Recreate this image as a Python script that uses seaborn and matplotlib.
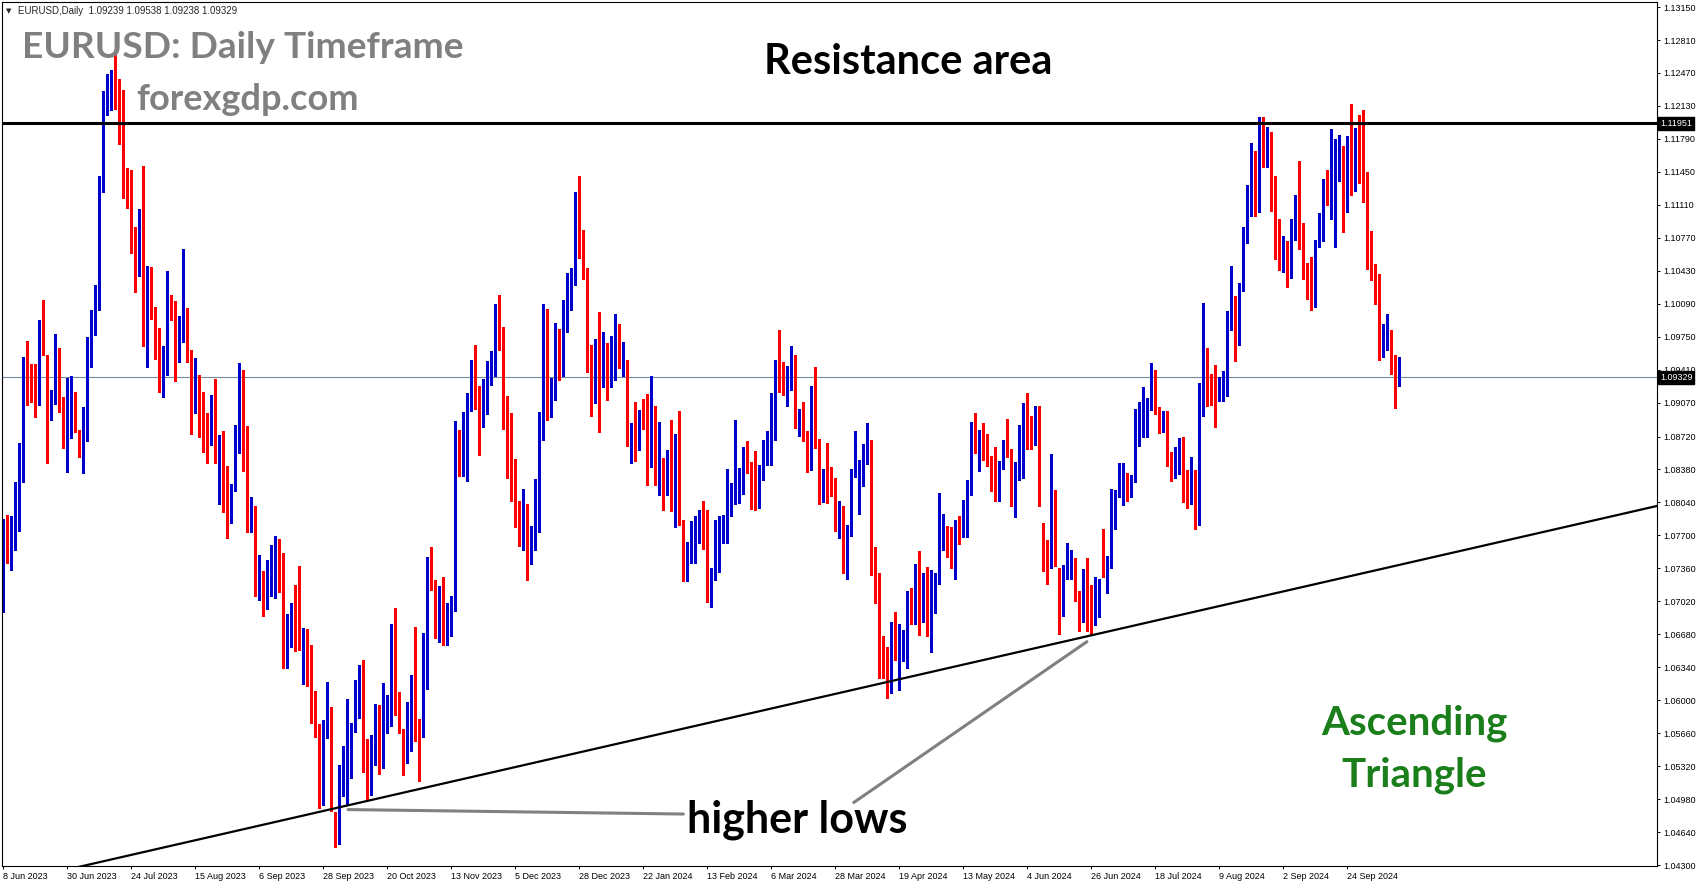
import matplotlib
matplotlib.use("Agg")
import matplotlib.pyplot as plt
import seaborn as sns
import numpy as np

# EURUSD daily candles, 8 Jun 2023 .. 11 Oct 2024
opens = [
    1.0697, 1.0784, 1.0749, 1.0757, 1.0795, 1.0826, 1.0945, 1.0940, 1.0922, 1.0913,
    1.0987, 1.0956, 1.0903, 1.0906, 1.0959, 1.0913, 1.0866, 1.0910, 1.0908, 1.0879,
    1.0855, 1.0883, 1.0957, 1.0997, 1.1007, 1.1124, 1.1224, 1.1228, 1.1233, 1.1226,
    1.1198, 1.1129, 1.1124, 1.1064, 1.1049, 1.1086, 1.0977, 1.1019, 1.0997, 1.0984,
    1.0939, 1.0949, 1.1011, 1.1004, 1.0955, 1.0975, 1.0978, 1.0949, 1.0906, 1.0904,
    1.0879, 1.0872, 1.0865, 1.0892, 1.0846, 1.0864, 1.0810, 1.0795, 1.0819, 1.0876,
    1.0924, 1.0844, 1.0776, 1.0792, 1.0722, 1.0723, 1.0698, 1.0714, 1.0750, 1.0755,
    1.0730, 1.0662, 1.0657, 1.0692, 1.0679, 1.0656, 1.0662, 1.0645, 1.0594, 1.0574,
    1.0503, 1.0566, 1.0568, 1.0478, 1.0467, 1.0505, 1.0542, 1.0551, 1.0567, 1.0597,
    1.0619, 1.0527, 1.0510, 1.0561, 1.0577, 1.0533, 1.0584, 1.0596, 1.0667, 1.0590,
    1.0567, 1.0562, 1.0566, 1.0616, 1.0573, 1.0571, 1.0621, 1.0725, 1.0719, 1.0701,
    1.0708, 1.0667, 1.0684, 1.0698, 1.0878, 1.0848, 1.0852, 1.0909, 1.0940, 1.0910,
    1.0888, 1.0899, 1.0944, 1.0953, 1.0993, 1.0970, 1.0889, 1.0878, 1.0837, 1.0796,
    1.0762, 1.0794, 1.0758, 1.0764, 1.0795, 1.0872, 1.0990, 1.0895, 1.0920, 1.0982,
    1.0936, 1.1012, 1.1002, 1.1041, 1.1106, 1.1061, 1.1045, 1.0942, 1.0920, 1.0945,
    1.0932, 1.0951, 1.0931, 1.0972, 1.0972, 1.0945, 1.0949, 1.0871, 1.0881, 1.0872,
    1.0892, 1.0883, 1.0841, 1.0883, 1.0839, 1.0842, 1.0830, 1.0839, 1.0817, 1.0872,
    1.0786, 1.0739, 1.0752, 1.0769, 1.0775, 1.0779, 1.0772, 1.0707, 1.0725, 1.0765,
    1.0773, 1.0776, 1.0805, 1.0813, 1.0816, 1.0831, 1.0848, 1.0844, 1.0834, 1.0798,
    1.0827, 1.0853, 1.0853, 1.0894, 1.0948, 1.0944, 1.0919, 1.0925, 1.0948, 1.0882,
    1.0892, 1.0872, 1.0860, 1.0920, 1.0856, 1.0809, 1.0837, 1.0831, 1.0826, 1.0787,
    1.0786, 1.0743, 1.0769, 1.0834, 1.0832, 1.0837, 1.0854, 1.0857, 1.0741, 1.0724,
    1.0634, 1.0624, 1.0614, 1.0673, 1.0643, 1.0649, 1.0652, 1.0701, 1.0694, 1.0728,
    1.0687, 1.0714, 1.0666, 1.0696, 1.0724, 1.0769, 1.0767, 1.0753, 1.0748, 1.0782,
    1.0768, 1.0790, 1.0819, 1.0884, 1.0865, 1.0868, 1.0858, 1.0852, 1.0823, 1.0815,
    1.0845, 1.0858, 1.0858, 1.0800, 1.0827, 1.0847, 1.0905, 1.0879, 1.0868, 1.0887,
    1.0774, 1.0765, 1.0736, 1.0810, 1.0736, 1.0703, 1.0734, 1.0739, 1.0744, 1.0700,
    1.0681, 1.0730, 1.0713, 1.0678, 1.0703, 1.0744, 1.0738, 1.0745, 1.0777, 1.0810,
    1.0801, 1.0826, 1.0810, 1.0825, 1.0862, 1.0885, 1.0894, 1.0899, 1.0938, 1.0897,
    1.0884, 1.0890, 1.0848, 1.0837, 1.0843, 1.0867, 1.0821, 1.0815, 1.0822, 1.0788,
    1.0924, 1.0952, 1.0929, 1.0921, 1.0914, 1.0915, 1.0930, 1.0984, 1.1013, 1.0972,
    1.1027, 1.1078, 1.1127, 1.1145, 1.1105, 1.1186, 1.1161, 1.1182, 1.1118, 1.1075,
    1.1047, 1.1062, 1.1037, 1.1080, 1.1100, 1.1078, 1.1033, 1.1014, 1.1008, 1.1074,
    1.1075, 1.1130, 1.1112, 1.1118, 1.1158, 1.1172, 1.1112, 1.1174, 1.1127, 1.1173,
    1.1153, 1.1125, 1.1065, 1.1044, 1.1030, 1.0964, 1.0971, 1.0971, 1.0939, 1.09239,
]
highs = [
    1.0787, 1.0791, 1.0790, 1.0825, 1.0865, 1.0954, 1.0971, 1.0947, 1.0947, 1.0992,
    1.1013, 1.0956, 1.0920, 1.0978, 1.0963, 1.0913, 1.0932, 1.0934, 1.0918, 1.0879,
    1.0902, 1.0975, 1.1002, 1.1028, 1.1141, 1.1228, 1.1246, 1.1250, 1.1267, 1.1241,
    1.1229, 1.1149, 1.1147, 1.1088, 1.1107, 1.1151, 1.1048, 1.1047, 1.1006, 1.0984,
    1.0965, 1.1043, 1.1018, 1.1012, 1.0996, 1.1065, 1.1005, 1.0961, 1.0953, 1.0935,
    1.0918, 1.0896, 1.0915, 1.0931, 1.0874, 1.0878, 1.0842, 1.0823, 1.0884, 1.0948,
    1.0941, 1.0883, 1.0810, 1.0800, 1.0750, 1.0733, 1.0745, 1.0760, 1.0769, 1.0766,
    1.0752, 1.0689, 1.0700, 1.0719, 1.0738, 1.0674, 1.0673, 1.0657, 1.0610, 1.0575,
    1.0580, 1.0619, 1.0593, 1.0485, 1.0533, 1.0553, 1.0601, 1.0576, 1.0621, 1.0636,
    1.0641, 1.0560, 1.0564, 1.0596, 1.0595, 1.0618, 1.0605, 1.0679, 1.0695, 1.0608,
    1.0570, 1.0598, 1.0626, 1.0676, 1.0581, 1.0669, 1.0748, 1.0758, 1.0724, 1.0718,
    1.0727, 1.0700, 1.0707, 1.0888, 1.0879, 1.0897, 1.0917, 1.0951, 1.0966, 1.0924,
    1.0931, 1.0950, 1.0960, 1.1009, 1.1018, 1.0985, 1.0914, 1.0896, 1.0849, 1.0806,
    1.0818, 1.0802, 1.0780, 1.0828, 1.0897, 1.1009, 1.1004, 1.0932, 1.0989, 1.0983,
    1.1013, 1.1041, 1.1046, 1.1124, 1.1141, 1.1085, 1.1046, 1.0966, 1.0973, 1.1000,
    1.0980, 1.0968, 1.0976, 1.0998, 1.0988, 1.0969, 1.0951, 1.0886, 1.0908, 1.0899,
    1.0911, 1.0916, 1.0934, 1.0903, 1.0887, 1.0850, 1.0858, 1.0889, 1.0875, 1.0898,
    1.0786, 1.0763, 1.0785, 1.0790, 1.0796, 1.0806, 1.0796, 1.0736, 1.0786, 1.0790,
    1.0791, 1.0839, 1.0824, 1.0889, 1.0840, 1.0861, 1.0867, 1.0846, 1.0857, 1.0843,
    1.0868, 1.0878, 1.0917, 1.0951, 1.0982, 1.0949, 1.0945, 1.0965, 1.0956, 1.0900,
    1.0908, 1.0878, 1.0924, 1.0944, 1.0869, 1.0839, 1.0865, 1.0841, 1.0829, 1.0805,
    1.0800, 1.0781, 1.0839, 1.0878, 1.0848, 1.0864, 1.0886, 1.0868, 1.0758, 1.0731,
    1.0666, 1.0655, 1.0681, 1.0691, 1.0679, 1.0672, 1.0713, 1.0716, 1.0741, 1.0754,
    1.0731, 1.0737, 1.0734, 1.0731, 1.0814, 1.0792, 1.0780, 1.0779, 1.0786, 1.0790,
    1.0807, 1.0827, 1.0887, 1.0896, 1.0879, 1.0886, 1.0875, 1.0852, 1.0861, 1.0847,
    1.0868, 1.0890, 1.0859, 1.0846, 1.0884, 1.0907, 1.0917, 1.0893, 1.0903, 1.0903,
    1.0783, 1.0765, 1.0854, 1.0817, 1.0736, 1.0739, 1.0762, 1.0755, 1.0747, 1.0713,
    1.0735, 1.0747, 1.0719, 1.0727, 1.0725, 1.0777, 1.0749, 1.0818, 1.0817, 1.0845,
    1.0845, 1.0834, 1.0832, 1.0900, 1.0908, 1.0923, 1.0912, 1.0948, 1.0941, 1.0902,
    1.0898, 1.0898, 1.0856, 1.0861, 1.0870, 1.0872, 1.0837, 1.0851, 1.0837, 1.0927,
    1.1010, 1.0963, 1.0937, 1.0946, 1.0933, 1.0940, 1.1001, 1.1048, 1.1017, 1.1030,
    1.1088, 1.1131, 1.1175, 1.1166, 1.1202, 1.1202, 1.1191, 1.1186, 1.1141, 1.1096,
    1.1079, 1.1074, 1.1096, 1.1121, 1.1156, 1.1092, 1.1051, 1.1057, 1.1075, 1.1103,
    1.1138, 1.1147, 1.1189, 1.1179, 1.1183, 1.1172, 1.1182, 1.1215, 1.1190, 1.1204,
    1.1209, 1.1145, 1.1084, 1.1050, 1.1040, 1.0988, 1.0998, 1.0982, 1.0956, 1.09538,
]
lows = [
    1.0691, 1.0742, 1.0734, 1.0755, 1.0775, 1.0825, 1.0904, 1.0908, 1.0892, 1.0904,
    1.0956, 1.0845, 1.0889, 1.0906, 1.0897, 1.0860, 1.0835, 1.0870, 1.0877, 1.0851,
    1.0834, 1.0867, 1.0944, 1.0977, 1.1002, 1.1124, 1.1204, 1.1209, 1.1210, 1.1174,
    1.1118, 1.1108, 1.1061, 1.1021, 1.1038, 1.0965, 1.0944, 1.0993, 1.0952, 1.0918,
    1.0913, 1.0935, 1.0992, 1.0929, 1.0949, 1.0970, 1.0949, 1.0875, 1.0896, 1.0872,
    1.0856, 1.0845, 1.0863, 1.0845, 1.0802, 1.0794, 1.0767, 1.0783, 1.0816, 1.0855,
    1.0836, 1.0773, 1.0773, 1.0707, 1.0703, 1.0687, 1.0694, 1.0708, 1.0705, 1.0712,
    1.0633, 1.0633, 1.0655, 1.0651, 1.0652, 1.0617, 1.0615, 1.0576, 1.0562, 1.0489,
    1.0492, 1.0561, 1.0486, 1.0449, 1.0452, 1.0501, 1.0492, 1.0520, 1.0567, 1.0582,
    1.0526, 1.0498, 1.0502, 1.0533, 1.0524, 1.0530, 1.0566, 1.0573, 1.0585, 1.0566,
    1.0523, 1.0535, 1.0548, 1.0558, 1.0517, 1.0562, 1.0612, 1.0714, 1.0664, 1.0660,
    1.0657, 1.0657, 1.0666, 1.0692, 1.0831, 1.0831, 1.0826, 1.0898, 1.0900, 1.0853,
    1.0882, 1.0895, 1.0925, 1.0934, 1.0961, 1.0880, 1.0829, 1.0805, 1.0779, 1.0759,
    1.0755, 1.0724, 1.0741, 1.0755, 1.0774, 1.0868, 1.0889, 1.0892, 1.0910, 1.0930,
    1.0934, 1.0980, 1.1002, 1.1028, 1.1056, 1.1034, 1.0939, 1.0893, 1.0907, 1.0877,
    1.0923, 1.0910, 1.0923, 1.0930, 1.0943, 1.0934, 1.0862, 1.0845, 1.0847, 1.0858,
    1.0880, 1.0822, 1.0841, 1.0822, 1.0812, 1.0796, 1.0812, 1.0795, 1.0779, 1.0781,
    1.0723, 1.0723, 1.0742, 1.0742, 1.0762, 1.0756, 1.0701, 1.0696, 1.0724, 1.0732,
    1.0762, 1.0762, 1.0790, 1.0802, 1.0803, 1.0813, 1.0834, 1.0797, 1.0796, 1.0798,
    1.0827, 1.0843, 1.0843, 1.0868, 1.0918, 1.0915, 1.0903, 1.0920, 1.0881, 1.0873,
    1.0867, 1.0835, 1.0837, 1.0860, 1.0802, 1.0804, 1.0803, 1.0811, 1.0775, 1.0767,
    1.0731, 1.0725, 1.0769, 1.0830, 1.0792, 1.0821, 1.0844, 1.0729, 1.0700, 1.0623,
    1.0623, 1.0602, 1.0607, 1.0642, 1.0611, 1.0640, 1.0633, 1.0679, 1.0679, 1.0667,
    1.0681, 1.0666, 1.0650, 1.0690, 1.0720, 1.0755, 1.0748, 1.0736, 1.0725, 1.0761,
    1.0768, 1.0768, 1.0812, 1.0855, 1.0836, 1.0848, 1.0842, 1.0816, 1.0806, 1.0805,
    1.0839, 1.0851, 1.0800, 1.0789, 1.0827, 1.0829, 1.0859, 1.0859, 1.0863, 1.0800,
    1.0733, 1.0720, 1.0736, 1.0738, 1.0668, 1.0687, 1.0725, 1.0725, 1.0702, 1.0671,
    1.0681, 1.0671, 1.0667, 1.0678, 1.0686, 1.0727, 1.0711, 1.0736, 1.0777, 1.0810,
    1.0801, 1.0806, 1.0810, 1.0825, 1.0862, 1.0872, 1.0872, 1.0899, 1.0895, 1.0876,
    1.0877, 1.0842, 1.0826, 1.0829, 1.0833, 1.0804, 1.0798, 1.0802, 1.0777, 1.0781,
    1.0893, 1.0903, 1.0905, 1.0882, 1.0909, 1.0909, 1.0914, 1.0982, 1.0950, 1.0966,
    1.1022, 1.1072, 1.1099, 1.1099, 1.1104, 1.1150, 1.1150, 1.1105, 1.1055, 1.1044,
    1.1042, 1.1026, 1.1035, 1.1075, 1.1065, 1.1034, 1.1014, 1.1002, 1.1006, 1.1068,
    1.1074, 1.1111, 1.1096, 1.1068, 1.1136, 1.1083, 1.1104, 1.1121, 1.1125, 1.1134,
    1.1114, 1.1045, 1.1033, 1.1009, 1.0951, 1.0954, 1.0961, 1.0937, 1.0901, 1.09238,
]
closes = [
    1.0785, 1.0749, 1.0760, 1.0796, 1.0832, 1.0946, 1.0942, 1.0922, 1.0918, 1.0987,
    1.0956, 1.0895, 1.0906, 1.0962, 1.0913, 1.0865, 1.0910, 1.0914, 1.0879, 1.0854,
    1.0893, 1.0969, 1.1002, 1.1009, 1.1132, 1.1228, 1.1227, 1.1239, 1.1228, 1.1203,
    1.1129, 1.1125, 1.1064, 1.1056, 1.1087, 1.0977, 1.1017, 1.0997, 1.0984, 1.0939,
    1.0950, 1.1011, 1.1004, 1.0956, 1.0975, 1.0982, 1.0951, 1.0907, 1.0907, 1.0880,
    1.0872, 1.0868, 1.0897, 1.0846, 1.0864, 1.0810, 1.0794, 1.0820, 1.0879, 1.0924,
    1.0844, 1.0774, 1.0797, 1.0722, 1.0727, 1.0696, 1.0701, 1.0751, 1.0756, 1.0729,
    1.0645, 1.0681, 1.0693, 1.0680, 1.0662, 1.0662, 1.0647, 1.0592, 1.0573, 1.0503,
    1.0567, 1.0574, 1.0487, 1.0467, 1.0504, 1.0553, 1.0586, 1.0569, 1.0606, 1.0620,
    1.0530, 1.0510, 1.0561, 1.0578, 1.0536, 1.0584, 1.0596, 1.0669, 1.0591, 1.0566,
    1.0564, 1.0566, 1.0617, 1.0576, 1.0571, 1.0623, 1.0728, 1.0718, 1.0701, 1.0710,
    1.0668, 1.0685, 1.0700, 1.0879, 1.0847, 1.0854, 1.0915, 1.0941, 1.0910, 1.0890,
    1.0905, 1.0939, 1.0955, 1.0996, 1.0970, 1.0889, 1.0884, 1.0837, 1.0799, 1.0764,
    1.0794, 1.0762, 1.0765, 1.0795, 1.0876, 1.0993, 1.0894, 1.0925, 1.0982, 1.0943,
    1.1012, 1.1015, 1.1043, 1.1106, 1.1063, 1.1038, 1.0941, 1.0922, 1.0947, 1.0941,
    1.0951, 1.0931, 1.0974, 1.0975, 1.0950, 1.0950, 1.0876, 1.0883, 1.0876, 1.0899,
    1.0883, 1.0854, 1.0886, 1.0846, 1.0856, 1.0833, 1.0847, 1.0817, 1.0873, 1.0788,
    1.0743, 1.0755, 1.0775, 1.0779, 1.0786, 1.0772, 1.0710, 1.0729, 1.0774, 1.0777,
    1.0778, 1.0808, 1.0820, 1.0823, 1.0822, 1.0852, 1.0845, 1.0838, 1.0806, 1.0842,
    1.0857, 1.0858, 1.0899, 1.0949, 1.0938, 1.0925, 1.0927, 1.0949, 1.0884, 1.0888,
    1.0873, 1.0866, 1.0923, 1.0861, 1.0809, 1.0838, 1.0831, 1.0829, 1.0787, 1.0792,
    1.0744, 1.0770, 1.0837, 1.0838, 1.0837, 1.0860, 1.0858, 1.0743, 1.0726, 1.0641,
    1.0625, 1.0621, 1.0674, 1.0643, 1.0657, 1.0654, 1.0703, 1.0699, 1.0730, 1.0667,
    1.0720, 1.0666, 1.0714, 1.0726, 1.0765, 1.0771, 1.0756, 1.0750, 1.0783, 1.0770,
    1.0791, 1.0822, 1.0885, 1.0868, 1.0869, 1.0857, 1.0854, 1.0822, 1.0816, 1.0846,
    1.0859, 1.0856, 1.0800, 1.0833, 1.0849, 1.0905, 1.0879, 1.0869, 1.0890, 1.0801,
    1.0765, 1.0740, 1.0810, 1.0738, 1.0707, 1.0736, 1.0740, 1.0744, 1.0702, 1.0692,
    1.0735, 1.0715, 1.0681, 1.0696, 1.0714, 1.0741, 1.0746, 1.0788, 1.0813, 1.0839,
    1.0826, 1.0814, 1.0831, 1.0868, 1.0908, 1.0895, 1.0899, 1.0941, 1.0897, 1.0883,
    1.0891, 1.0853, 1.0839, 1.0845, 1.0856, 1.0821, 1.0815, 1.0827, 1.0791, 1.0911,
    1.0951, 1.0932, 1.0922, 1.0919, 1.0917, 1.0934, 1.0994, 1.1012, 1.0971, 1.1029,
    1.1086, 1.1130, 1.1151, 1.1111, 1.1192, 1.1161, 1.1185, 1.1120, 1.1078, 1.1048,
    1.1074, 1.1044, 1.1084, 1.1112, 1.1086, 1.1034, 1.1019, 1.1011, 1.1075, 1.1075,
    1.1133, 1.1114, 1.1118, 1.1162, 1.1163, 1.1111, 1.1180, 1.1132, 1.1178, 1.1163,
    1.1135, 1.1068, 1.1045, 1.1030, 1.0975, 1.0975, 1.0981, 1.0940, 1.0938, 1.09329,
]

# one date label every 16 bars
date_labels = [
    "8 Jun 2023", "30 Jun 2023", "24 Jul 2023", "15 Aug 2023", "6 Sep 2023",
    "28 Sep 2023", "20 Oct 2023", "13 Nov 2023", "5 Dec 2023", "28 Dec 2023",
    "22 Jan 2024", "13 Feb 2024", "6 Mar 2024", "28 Mar 2024", "19 Apr 2024",
    "13 May 2024", "4 Jun 2024", "26 Jun 2024", "18 Jul 2024", "9 Aug 2024",
    "2 Sep 2024", "24 Sep 2024",
]
price_ticks = [
    1.13150, 1.12810, 1.12470, 1.12130, 1.11790, 1.11450, 1.11110, 1.10770,
    1.10430, 1.10090, 1.09750, 1.09410, 1.09070, 1.08720, 1.08380, 1.08040,
    1.07700, 1.07360, 1.07020, 1.06680, 1.06340, 1.06000, 1.05660, 1.05320,
    1.04980, 1.04640, 1.04300,
]

resistance = 1.11951
last_price = 1.09329
header = "EURUSD,Daily  1.09239 1.09538 1.09238 1.09329"

# chart objects (bar index, price)
trend_bars, trend_prices = [15.5, 413.75], [1.04249, 1.08007]
arrow1_bars, arrow1_prices = [86.2, 170.0], [1.04872, 1.04826]
arrow2_bars, arrow2_prices = [212.6, 270.9], [1.04945, 1.06604]

sns.set_theme(style="white")
plt.rcParams["font.family"] = ["Liberation Sans", "DejaVu Sans"]

W, H = 1705, 888
fig = plt.figure(figsize=(W / 100, H / 100), dpi=100)
fig.patch.set_facecolor("white")
ax = fig.add_axes([2 / W, 22 / H, 1655 / W, 864 / H])
ax.set_facecolor("white")

o = np.array(opens)
h = np.array(highs)
l = np.array(lows)
c = np.array(closes)
x = np.arange(len(o))
cols = np.where(c > o, "#0000CD", "#FF0000")

ax.axhline(last_price, color="#778899", lw=0.8, zorder=1)
ax.vlines(x, l, h, colors=cols, lw=0.8, zorder=2, antialiased=False)
ax.bar(x, np.maximum(np.abs(c - o), 0.0001), bottom=np.minimum(o, c),
       width=0.75, color=cols, linewidth=0, zorder=2, antialiased=False)

ax.axhline(resistance, color="black", lw=2.2, zorder=3)
ax.plot(trend_bars, trend_prices, color="black", lw=1.6, zorder=3)
ax.plot(arrow1_bars, arrow1_prices, color="#808080", lw=2.2, zorder=3)
ax.plot(arrow2_bars, arrow2_prices, color="#808080", lw=2.2, zorder=3)

ax.set_xlim(-0.325, 413.4)
ax.set_ylim(1.04290, 1.13202)
for s in ax.spines.values():
    s.set_color("black")
    s.set_linewidth(0.8)

ax.yaxis.tick_right()
ax.set_yticks(price_ticks)
ax.set_yticklabels([f"{p:.5f}" for p in price_ticks])
ax.set_xticks(np.arange(len(date_labels)) * 16)
ax.set_xticklabels(date_labels, ha="left")
ax.tick_params(axis="both", direction="out", length=2.5, width=0.7,
               colors="black", labelsize=6.5)
ax.tick_params(axis="x", bottom=True, pad=1.5)
ax.tick_params(axis="y", right=True, left=False, labelright=True,
               labelleft=False, pad=2)
ax.grid(False)

for val in [resistance, last_price]:
    ax.annotate(f"{val:.5f}", xy=(1, val), xycoords=("axes fraction", "data"),
                xytext=(2.2, 0), textcoords="offset points", ha="left",
                va="center", fontsize=6.5, color="white", zorder=6,
                annotation_clip=False,
                bbox=dict(boxstyle="square,pad=0.2", fc="black", ec="black"))


def fx(px):
    return px / W


def fy(py):
    return 1 - py / H


fig.text(fx(6), fy(11), "\u25bc", size=5, family="DejaVu Sans", va="center")
fig.text(fx(18), fy(11), header, size=7, va="center")

big = dict(family=["Lato", "DejaVu Sans"], weight="bold", va="baseline")
fig.text(fx(22), fy(58), "EURUSD: Daily Timeframe", size=26.7, color="#808080", **big)
fig.text(fx(136), fy(110), "forexgdp.com", size=26, color="#808080", **big)
fig.text(fx(908), fy(74), "Resistance area", size=30, color="black", ha="center", **big)
fig.text(fx(797), fy(832), "higher lows", size=31, color="black", ha="center", **big)
fig.text(fx(1414), fy(734), "Ascending", size=29, color="#1a7f1a", ha="center", **big)
fig.text(fx(1414), fy(786), "Triangle", size=29, color="#1a7f1a", ha="center", **big)

fig.savefig("out.png", dpi=100, facecolor="white")
